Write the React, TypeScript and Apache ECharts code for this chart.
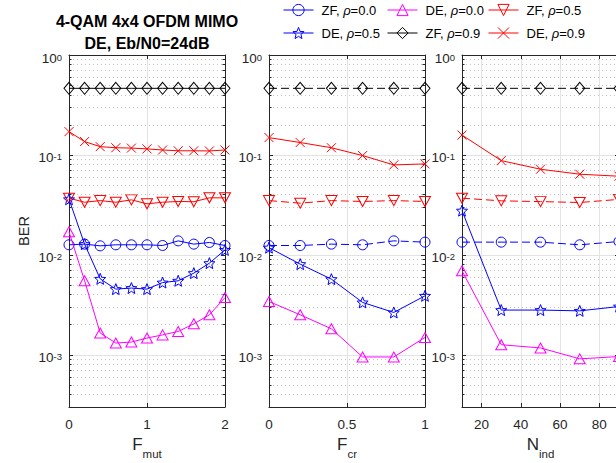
import React, { useEffect, useRef } from 'react';
import * as echarts from 'echarts';

// ---------- data ----------
const xMut = [0, 0.2, 0.4, 0.6, 0.8, 1.0, 1.2, 1.4, 1.6, 1.8, 2.0];
const xCr = [0, 0.2, 0.4, 0.6, 0.8, 1.0];
const xInd = [10, 30, 50, 70, 90];

const mutZF00 = [0.0126, 0.0128, 0.0123, 0.0126, 0.0126, 0.0126, 0.0124, 0.0138, 0.0128, 0.0133, 0.0124];
const mutDE00 = [0.0170, 0.0055, 0.00165, 0.00131, 0.00134, 0.00147, 0.00158, 0.00171, 0.00204, 0.00251, 0.00374];
const mutZF05 = [0.0369, 0.0336, 0.0349, 0.0336, 0.0355, 0.0324, 0.0336, 0.0342, 0.0340, 0.0372, 0.0372];
const mutDE05 = [0.0360, 0.0128, 0.00575, 0.00454, 0.00465, 0.00454, 0.00528, 0.0055, 0.00656, 0.00826, 0.0112];
const mutZF09 = [0.464, 0.464, 0.464, 0.464, 0.464, 0.464, 0.464, 0.464, 0.464, 0.464, 0.464];
const mutDE09 = [0.171, 0.136, 0.121, 0.118, 0.117, 0.115, 0.112, 0.110, 0.110, 0.1096, 0.112];

const crZF00 = [0.0124, 0.0124, 0.0128, 0.0126, 0.0138, 0.0134];
const crDE00 = [0.00341, 0.00251, 0.00182, 0.00095, 0.00095, 0.00149];
const crZF05 = [0.0349, 0.0329, 0.0349, 0.0342, 0.0349, 0.0342];
const crDE05 = [0.0118, 0.00807, 0.00571, 0.00334, 0.00265, 0.00389];
const crZF09 = [0.464, 0.464, 0.464, 0.464, 0.464, 0.464];
const crDE09 = [0.149, 0.133, 0.118, 0.0985, 0.0794, 0.0813];

const indZF00 = [0.0134, 0.0134, 0.0134, 0.0126, 0.0136];
const indDE00 = [0.00692, 0.00126, 0.00117, 0.00091, 0.00096];
const indZF05 = [0.0369, 0.0347, 0.0341, 0.0334, 0.0359];
const indDE05 = [0.0277, 0.0028, 0.0028, 0.00275, 0.00304];
const indZF09 = [0.464, 0.464, 0.464, 0.464, 0.464];
const indDE09 = [0.158, 0.0877, 0.0719, 0.0641, 0.0612];

const seriesNames = ['ZF, ρ=0.0', 'DE, ρ=0.0', 'ZF, ρ=0.5', 'DE, ρ=0.5', 'ZF, ρ=0.9', 'DE, ρ=0.9'];

const yMajorTicks = [0.001, 0.01, 0.1, 1];
const yMinorTicks = [
  0.0004, 0.0005, 0.0006, 0.0007, 0.0008, 0.0009,
  0.002, 0.003, 0.004, 0.005, 0.006, 0.007, 0.008, 0.009,
  0.02, 0.03, 0.04, 0.05, 0.06, 0.07, 0.08, 0.09,
  0.2, 0.3, 0.4, 0.5, 0.6, 0.7, 0.8, 0.9,
];
const indTicks = [20, 40, 60, 80];

// ---------- styles ----------
const FONT = "'Liberation Sans', Arial, Helvetica, sans-serif";
const AX = '#262626';

const STAR = (() => {
  const pts: string[] = [];
  for (let i = 0; i < 10; i++) {
    const a = (-90 + 36 * i) * Math.PI / 180;
    const r = i % 2 === 0 ? 10 : 4.4;
    pts.push(`${(10 + r * Math.cos(a)).toFixed(3)},${(10 + r * Math.sin(a)).toFixed(3)}`);
  }
  return 'path://M' + pts.join('L') + 'Z';
})();

const seriesStyle = [
  { color: '#0000ff', symbol: 'circle', size: 10, rot: 0, zf: true },
  { color: '#ff00ff', symbol: 'triangle', size: [11, 10], rot: 0, zf: false },
  { color: '#ff0000', symbol: 'triangle', size: [11, 10], rot: 180, zf: true },
  { color: '#0000ff', symbol: STAR, size: 11, rot: 0, zf: false },
  { color: '#000000', symbol: 'path://M5,0L10,6L5,12L0,6Z', size: [10, 12], rot: 0, zf: true },
  { color: '#ff0000', symbol: 'path://M0,0L10,10M0,10L10,0', size: 9, rot: 0, zf: false },
];

const panels = [
  { x: xMut, ys: [mutZF00, mutDE00, mutZF05, mutDE05, mutZF09, mutDE09], left: 69, width: 156, min: 0, max: 2, interval: 1, custom: null as number[] | null, name: '{m|F}{s|mut}', dashZF: false },
  { x: xCr, ys: [crZF00, crDE00, crZF05, crDE05, crZF09, crDE09], left: 269, width: 156, min: 0, max: 1, interval: 0.5, custom: null as number[] | null, name: '{m|F}{s|cr}', dashZF: true },
  { x: xInd, ys: [indZF00, indDE00, indZF05, indDE05, indZF09, indDE09], left: 462, width: 157, min: 10, max: 90, interval: 20, custom: indTicks, name: '{m|N}{s|ind}', dashZF: true },
];

function buildOption() {
  const grid: any[] = [];
  const xAxis: any[] = [];
  const yAxis: any[] = [];
  const series: any[] = [];

  panels.forEach((p, g) => {
    grid.push({ left: p.left, width: p.width, top: 55, height: 352, containLabel: false, outerBoundsMode: 'none' });
    const xBase: any = {
      type: 'value', gridIndex: g, min: p.min, max: p.max,
      axisLine: { show: true, onZero: false, lineStyle: { color: AX, width: 1 } },
    };
    if (!p.custom) xBase.interval = p.interval;
    xAxis.push({
      ...xBase, position: 'bottom',
      axisTick: { show: true, inside: true, length: 4, lineStyle: { color: AX }, ...(p.custom ? { customValues: p.custom } : {}) },
      axisLabel: { show: true, color: AX, fontSize: 13.5, fontFamily: FONT, margin: 10, ...(p.custom ? { customValues: p.custom } : {}) },
      splitLine: { show: true, lineStyle: { color: '#e3e3e3', width: 1 } },
      name: p.name, nameLocation: 'middle', nameGap: 29,
      nameTextStyle: {
        color: AX, fontFamily: FONT,
        rich: {
          m: { fontSize: 17, lineHeight: 17, verticalAlign: 'top', fontFamily: FONT, color: AX },
          s: { fontSize: 11.5, lineHeight: 11, padding: [12, 0, 0, 0], verticalAlign: 'top', fontFamily: FONT, color: AX },
        },
      },
    });
    xAxis.push({
      ...xBase, position: 'top',
      axisTick: { show: true, inside: true, length: 4, lineStyle: { color: AX }, ...(p.custom ? { customValues: p.custom } : {}) },
      axisLabel: { show: false },
      splitLine: { show: false },
    });

    const yBase: any = {
      type: 'log', logBase: 10, gridIndex: g, min: 0.0003, max: 1,
    };
    yAxis.push({
      ...yBase, position: 'left',
      axisLine: { show: true, lineStyle: { color: AX, width: 1 } },
      axisTick: { show: true, inside: true, length: 4, customValues: yMajorTicks, lineStyle: { color: AX } },
      axisLabel: {
        show: true, customValues: yMajorTicks, margin: 7, padding: [7, 0, 0, 0],
        formatter: (v: number) => `{b|10}{s|${Math.round(Math.log10(v))}}`,
        rich: {
          b: { fontSize: 13.5, lineHeight: 13, verticalAlign: 'bottom', fontFamily: FONT, color: AX },
          s: { fontSize: 9.5, lineHeight: 11, padding: [0, 0, 7, 0], verticalAlign: 'top', fontFamily: FONT, color: AX },
        },
      },
      splitLine: { show: true, lineStyle: { color: '#e3e3e3', width: 1 } },
      ...(g === 0 ? {
        name: 'BER', nameLocation: 'middle', nameGap: 38,
        nameTextStyle: { fontSize: 14.5, color: AX, fontFamily: FONT },
      } : {}),
    });
    yAxis.push({
      ...yBase, position: 'left',
      axisLine: { show: false },
      axisTick: { show: true, inside: true, length: 2.5, customValues: yMinorTicks, lineStyle: { color: AX } },
      axisLabel: { show: false },
      splitLine: { show: true, lineStyle: { color: '#c4c4c4', width: 1, type: [1, 3] } },
    });
    yAxis.push({
      ...yBase, position: 'right',
      axisLine: { show: true, lineStyle: { color: AX, width: 1 } },
      axisTick: { show: true, inside: true, length: 4, customValues: yMajorTicks, lineStyle: { color: AX } },
      axisLabel: { show: false },
      splitLine: { show: false },
    });
    yAxis.push({
      ...yBase, position: 'right',
      axisLine: { show: false },
      axisTick: { show: true, inside: true, length: 2.5, customValues: yMinorTicks, lineStyle: { color: AX } },
      axisLabel: { show: false },
      splitLine: { show: false },
    });

    p.ys.forEach((vals, k) => {
      const st = seriesStyle[k];
      const dashed = st.zf && p.dashZF;
      series.push({
        type: 'line', name: seriesNames[k],
        xAxisIndex: 2 * g, yAxisIndex: 4 * g,
        data: p.x.map((xv, i) => [xv, vals[i]]),
        symbol: st.symbol, symbolSize: st.size, symbolRotate: st.rot,
        showSymbol: true,
        lineStyle: { color: st.color, width: 1, type: dashed ? [8, 4] : 'solid' },
        itemStyle: { color: 'transparent', borderColor: st.color, borderWidth: 1 },
        emphasis: { disabled: true },
        z: 3 + k,
      });
    });
  });

  const legendCommon = {
    orient: 'vertical', top: 3.5, padding: 0, itemWidth: 30, itemHeight: 14, itemGap: 10,
    selectedMode: false,
    lineStyle: { width: 1 },
    itemStyle: { borderWidth: 1 },
    formatter: (name: string) => name.replace('ρ', '{i|ρ}'),
    textStyle: {
      fontSize: 13, color: '#000', fontFamily: FONT, padding: [0, 0, 0, 3],
      rich: { i: { fontStyle: 'italic', fontSize: 13, color: '#000', fontFamily: FONT } },
    },
  };

  return {
    animation: false,
    backgroundColor: '#ffffff',
    grid, xAxis, yAxis, series,
    legend: [
      { ...legendCommon, left: 283, data: [seriesNames[0], seriesNames[3]] },
      { ...legendCommon, left: 387, data: [seriesNames[1], seriesNames[4]] },
      { ...legendCommon, left: 488, data: [seriesNames[2], seriesNames[5]] },
    ],
    graphic: [
      { type: 'text', x: 147, y: 21, style: { text: '4-QAM 4x4 OFDM MIMO', align: 'center', verticalAlign: 'middle', fontSize: 16, fontWeight: 'bold', fontFamily: FONT, fill: '#000' } },
      { type: 'text', x: 147, y: 43, style: { text: 'DE, Eb/N0=24dB', align: 'center', verticalAlign: 'middle', fontSize: 16, fontWeight: 'bold', fontFamily: FONT, fill: '#000' } },
    ],
  };
}

export default function App() {
  const ref = useRef<HTMLDivElement>(null);
  useEffect(() => {
    if (!ref.current) return;
    const chart = echarts.init(ref.current, undefined, { renderer: 'svg' });
    chart.setOption(buildOption() as any);
    return () => chart.dispose();
  }, []);
  return (
    <div
      ref={ref}
      style={{ position: 'absolute', left: 0, top: 0, width: 616, height: 463, background: '#fff' }}
    />
  );
}
